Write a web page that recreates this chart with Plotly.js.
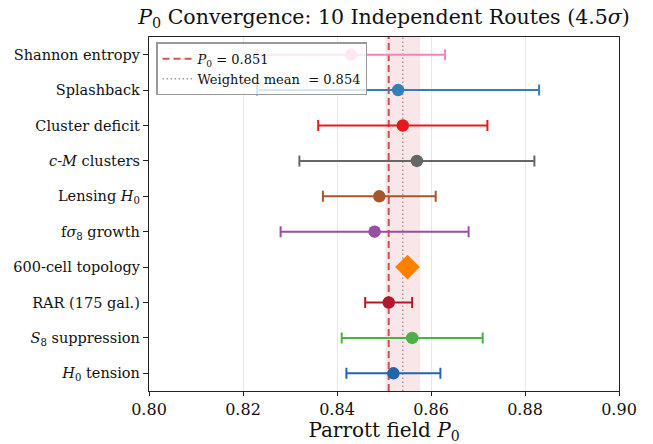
<!DOCTYPE html>
<html><head><meta charset="utf-8">
<script src="https://cdn.plot.ly/plotly-3.0.1.min.js"></script>
<style>html,body{margin:0;padding:0;background:#fff}#chart{width:653px;height:444px}</style>
</head><body><div id="chart"></div>
<script>
// Routes listed bottom -> top
const routes = ["<i>H</i><sub>0</sub> tension","<i>S</i><sub>8</sub> suppression","RAR (175 gal.)","600-cell topology","f<i>σ</i><sub>8</sub> growth","Lensing <i>H</i><sub>0</sub>","<i>c</i>-<i>M</i> clusters","Cluster deficit","Splashback","Shannon entropy"];
const values = [0.852, 0.856, 0.851, 0.855, 0.848, 0.849, 0.857, 0.854, 0.853, 0.843];
const errors = [0.010, 0.015, 0.005, 0, 0.020, 0.012, 0.025, 0.018, 0.030, 0.020];
const colors = ["#2166ac","#4daf4a","#b2182b","#ff7f00","#984ea3","#a65628","#666666","#e41a1c","#377eb8","#f781bf"];
const markerSymbols = ["circle","circle","circle","diamond","circle","circle","circle","circle","circle","circle"];
const P0 = 0.851;
const weightedMean = 0.854;
const meanBandHalfWidth = 0.0037;
const xTicks = [0.80,0.82,0.84,0.86,0.88,0.90];
const xRange = [0.80, 0.90];

const serif = "DejaVu Serif, serif";
const yIdx = routes.map((_, i) => i);
const yLo = -0.5, yHi = routes.length - 0.5;

const traces = [];
traces.push({
  x:[P0,P0], y:[yLo,yHi], mode:"lines", name:"<i>P</i><sub>0</sub> = 0.851",
  line:{color:"rgba(200,40,50,0.8)", width:2, dash:"7px,4px"}, hoverinfo:"skip"
});
traces.push({
  x:[weightedMean,weightedMean], y:[yLo,yHi], mode:"lines", name:"Weighted mean  = 0.854",
  line:{color:"#a0a0a0", width:1.5, dash:"1.5px,2.5px"}, hoverinfo:"skip"
});
routes.forEach((r, i) => {
  const hasErr = errors[i] > 0;
  traces.push({
    x:[values[i]], y:[i], mode:"markers", showlegend:false,
    marker:{color:colors[i], size: markerSymbols[i]==="diamond" ? 19 : 12.5, symbol:markerSymbols[i]},
    error_x: hasErr ? {type:"data", array:[errors[i]], visible:true, color:colors[i], thickness:2, width:5.5} : {visible:false}
  });
});

const layout = {
  width:653, height:444,
  margin:{l:149, r:34, t:37, b:53},
  paper_bgcolor:"#fff", plot_bgcolor:"#fff",
  font:{family:serif, color:"#111"},
  title:{text:"<i>P</i><sub>0</sub> Convergence: 10 Independent Routes (4.5<i>σ</i>)", font:{family:serif, size:20.5, color:"#111"}, x:0.5, xref:"paper", xanchor:"center", y:0.962, yref:"container", yanchor:"middle"},
  xaxis:{range:xRange, tickvals:xTicks, ticktext:xTicks.map(v=>v.toFixed(2)), showgrid:true, gridcolor:"#e8e8e8", gridwidth:1,
    zeroline:false, showline:true, linecolor:"#222", linewidth:1.2, mirror:true, ticks:"outside", ticklen:4, tickcolor:"#222",
    tickfont:{family:serif, size:16, color:"#111"},
    title:{text:"Parrott field <i>P</i><sub>0</sub>", font:{family:serif, size:20, color:"#111"}}},
  yaxis:{range:[yLo,yHi], tickvals:yIdx, ticktext:routes, showgrid:false, zeroline:false,
    showline:true, linecolor:"#222", linewidth:1.2, mirror:true, ticks:"outside", ticklen:5, tickcolor:"#222",
    tickfont:{family:serif, size:14.5, color:"#111"}},
  shapes:[{type:"rect", xref:"x", yref:"paper", x0:weightedMean-meanBandHalfWidth, x1:weightedMean+meanBandHalfWidth, y0:0, y1:1,
    fillcolor:"rgba(205,60,80,0.13)", line:{width:0}, layer:"below"}],
  legend:{x:0.015, y:0.985, xanchor:"left", yanchor:"top", bgcolor:"rgba(255,255,255,0.8)", bordercolor:"#999", borderwidth:1.5,
    font:{family:serif, size:13, color:"#111"}, tracegroupgap:0, itemwidth:30},
  showlegend:true
};
Plotly.newPlot("chart", traces, layout, {displayModeBar:false, staticPlot:true});
</script></body></html>
